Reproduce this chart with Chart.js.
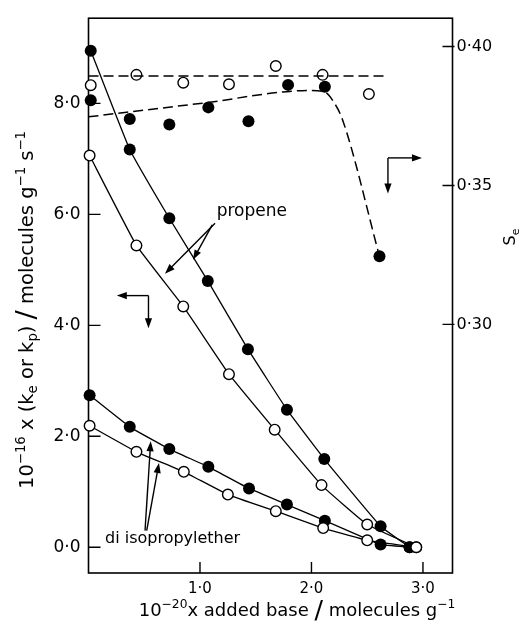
<!DOCTYPE html>
<html>
<head>
<meta charset="utf-8">
<script src="https://cdn.jsdelivr.net/npm/chart.js@4.4.0/dist/chart.umd.min.js"></script>
<style>
    html, body { margin: 0; padding: 0; background: #fff; }
    #wrap { width: 522px; height: 631px; position: relative; }
</style>
</head>
<body>
<div id="wrap"><canvas id="chartBase"></canvas></div>
<script>
// added base, 10^-20 molecules g^-1  /  rate constants, 10^16 molecules g^-1 s^-1
const propKeX = [0.02, 0.37, 0.725, 1.07, 1.43, 1.78, 2.115, 2.62, 2.88];
const propKeY = [8.95, 7.17, 5.93, 4.80, 3.57, 2.48, 1.59, 0.38, 0.0];
const propKpX = [0.01, 0.43, 0.85, 1.26, 1.67, 2.09, 2.50, 2.94];
const propKpY = [7.06, 5.44, 4.34, 3.12, 2.12, 1.12, 0.41, 0.0];

const etherKeX = [0.01, 0.37, 0.725, 1.075, 1.44, 1.78, 2.12, 2.62, 2.88];
const etherKeY = [2.74, 2.17, 1.77, 1.45, 1.06, 0.77, 0.48, 0.05, 0.0];
const etherKpX = [0.01, 0.43, 0.855, 1.25, 1.68, 2.105, 2.50, 2.94];
const etherKpY = [2.19, 1.72, 1.36, 0.95, 0.65, 0.345, 0.125, 0.0];

// selectivity S_e (right axis)
const seFilledX = [0.02, 0.37, 0.725, 1.075, 1.435, 1.79, 2.12, 2.61];
const seFilledY = [0.3807, 0.3739, 0.3719, 0.3781, 0.3731, 0.3862, 0.3855, 0.3245];
const seOpenX = [0.02, 0.43, 0.85, 1.26, 1.68, 2.10, 2.515];
const seOpenY = [0.3861, 0.3898, 0.3870, 0.3864, 0.3930, 0.3898, 0.3829];

// dashed curves drawn through the S_e points
const seFilledFitX = [0, 1.0, 2.0, 2.12, 2.2, 2.28, 2.61];
const seFilledFitY = [0.3747, 0.3795, 0.3842, 0.3836, 0.3800, 0.3735, 0.3245];
const seOpenFitX = [0, 2.69];
const seOpenFitY = [0.3894, 0.3894];

const xTicks = [1, 2, 3];
const kTicks = [0, 2, 4, 6, 8];
const seTicks = [0.30, 0.35, 0.40];

const pares = (xs, ys) => xs.map((x, i) => ({ x: x, y: ys[i] }));
const conPunto = (v, d) => v.toFixed(d).replace('.', '\u00b7');

const FUENTE = 'DejaVu Sans';

const serieLinea = (xs, ys, relleno) => ({
    data: pares(xs, ys),
    yAxisID: 'y',
    borderColor: '#000',
    borderWidth: 1.3,
    tension: 0.1,
    pointRadius: relleno ? 6 : 5.3,
    pointBorderWidth: relleno ? 0 : 1.4,
    pointBackgroundColor: relleno ? '#000' : '#fff',
    pointBorderColor: '#000',
    clip: false
});

const seriePuntos = (xs, ys, relleno) => ({
    data: pares(xs, ys),
    yAxisID: 'y1',
    showLine: false,
    pointRadius: relleno ? 6 : 5.3,
    pointBorderWidth: relleno ? 0 : 1.4,
    pointBackgroundColor: relleno ? '#000' : '#fff',
    pointBorderColor: '#000',
    clip: false
});

const serieAjuste = (xs, ys) => ({
    data: pares(xs, ys),
    yAxisID: 'y1',
    borderColor: '#000',
    borderWidth: 1.5,
    borderDash: [10, 5],
    pointRadius: 0,
    cubicInterpolationMode: 'monotone',
    clip: false
});

// texto con super/subindices
const textoRico = (ctx, partes, x, y, size) => {
    const medir = p => {
        const s = p[1] === 'sup' || p[1] === 'sub' ? size * 0.68 : (p[1] === 'big' ? size * 1.4 : size);
        ctx.font = `${s}px "${FUENTE}"`;
        return { s: s, w: ctx.measureText(p[0]).width };
    };
    const total = partes.reduce((a, p) => a + medir(p).w, 0);
    let cx = x - total / 2;
    ctx.textBaseline = 'alphabetic';
    ctx.textAlign = 'left';
    partes.forEach(p => {
        const m = medir(p);
        let dy = 0;
        if (p[1] === 'sup') dy = -size * 0.42;
        if (p[1] === 'sub') dy = size * 0.22;
        if (p[1] === 'big') dy = size * 0.12;
        ctx.fillText(p[0], cx, y + dy);
        cx += m.w;
    });
};

const flecha = (ctx, x1, y1, x2, y2) => {
    const ang = Math.atan2(y2 - y1, x2 - x1);
    const L = 10, W = 3.6;
    ctx.beginPath();
    ctx.moveTo(x1, y1);
    ctx.lineTo(x2 - Math.cos(ang) * L * 0.8, y2 - Math.sin(ang) * L * 0.8);
    ctx.stroke();
    ctx.beginPath();
    ctx.moveTo(x2, y2);
    ctx.lineTo(x2 - Math.cos(ang) * L - Math.sin(ang) * W, y2 - Math.sin(ang) * L + Math.cos(ang) * W);
    ctx.lineTo(x2 - Math.cos(ang) * L + Math.sin(ang) * W, y2 - Math.sin(ang) * L - Math.cos(ang) * W);
    ctx.closePath();
    ctx.fill();
};

const marco = {
    id: 'marco',
    beforeDatasetsDraw(chart) {
        const { ctx, chartArea: a, scales } = chart;
        ctx.save();
        ctx.strokeStyle = '#000';
        ctx.lineWidth = 1.6;
        ctx.strokeRect(a.left, a.top, a.right - a.left, a.bottom - a.top);
        ctx.lineWidth = 1.4;
        ctx.beginPath();
        kTicks.forEach(v => {
            const py = scales.y.getPixelForValue(v);
            ctx.moveTo(a.left, py); ctx.lineTo(a.left + 12, py);
        });
        seTicks.forEach(v => {
            const py = scales.y1.getPixelForValue(v);
            ctx.moveTo(a.right + 2, py); ctx.lineTo(a.right - 10, py);
        });
        xTicks.forEach(v => {
            const px = scales.x.getPixelForValue(v);
            ctx.moveTo(px, a.bottom); ctx.lineTo(px, a.bottom - 11);
        });
        ctx.stroke();
        ctx.restore();
    },
    afterDraw(chart) {
        const { ctx, scales } = chart;
        const X = v => scales.x.getPixelForValue(v);
        const Y = v => scales.y.getPixelForValue(v);
        ctx.save();
        ctx.fillStyle = '#000';
        ctx.strokeStyle = '#000';
        ctx.lineWidth = 1.4;

        // titulos de ejes
        ctx.save();
        ctx.translate(26, 310);
        ctx.rotate(-Math.PI / 2);
        textoRico(ctx, [['10'], ['\u221216', 'sup'], [' x (k'], ['e', 'sub'], [' or k'], ['p', 'sub'],
            [') '], ['/', 'big'], [' molecules g'], ['\u22121', 'sup'], [' s'], ['\u22121', 'sup']], 0, 7, 19.5);
        ctx.restore();

        textoRico(ctx, [['10'], ['\u221220', 'sup'], ['x added base '], ['/', 'big'], [' molecules g'], ['\u22121', 'sup']], 297, 616, 18);

        ctx.save();
        ctx.translate(509, 237);
        ctx.rotate(-Math.PI / 2);
        textoRico(ctx, [['S'], ['e', 'sub']], 0, 6, 16);
        ctx.restore();

        // etiquetas dentro del grafico
        ctx.font = `17px "${FUENTE}"`;
        ctx.textAlign = 'left';
        ctx.textBaseline = 'alphabetic';
        ctx.fillText('propene', X(1.15), Y(5.97));
        flecha(ctx, X(1.135), Y(5.84), X(0.686), Y(4.93));
        flecha(ctx, X(1.11), Y(5.81), X(0.937), Y(5.18));

        ctx.font = `16px "${FUENTE}"`;
        ctx.fillText('di isopropylether', X(0.148), Y(0.07));
        flecha(ctx, X(0.507), Y(0.30), X(0.558), Y(1.91));
        flecha(ctx, X(0.522), Y(0.30), X(0.632), Y(1.52));

        // indicadores de eje
        flecha(ctx, X(0.538), Y(4.536), X(0.254), Y(4.536));
        flecha(ctx, X(0.538), Y(4.536), X(0.538), Y(3.946));
        flecha(ctx, X(2.686), Y(7.018), X(2.991), Y(7.018));
        flecha(ctx, X(2.686), Y(7.018), X(2.686), Y(6.375));
        ctx.restore();
    }
};

const canvas = document.getElementById('chartBase');
const ctx = canvas.getContext('2d');

new Chart(ctx, {
    type: 'line',
    data: {
        datasets: [
            serieAjuste(seOpenFitX, seOpenFitY),
            serieAjuste(seFilledFitX, seFilledFitY),
            serieLinea(propKpX, propKpY, false),
            serieLinea(propKeX, propKeY, true),
            serieLinea(etherKpX, etherKpY, false),
            serieLinea(etherKeX, etherKeY, true),
            seriePuntos(seOpenX, seOpenY, false),
            seriePuntos(seFilledX, seFilledY, true)
        ]
    },
    options: {
        responsive: true,
        maintainAspectRatio: false,
        animation: false,
        layout: { padding: { top: 13, left: 0, right: 0, bottom: 0 } },
        plugins: { legend: { display: false }, tooltip: { enabled: false } },
        scales: {
            x: {
                type: 'linear',
                min: 0,
                max: 3.265,
                afterBuildTicks: s => { s.ticks = xTicks.map(v => ({ value: v })); },
                afterFit: s => { s.height = 58; },
                grid: { display: false, drawTicks: false },
                border: { display: false },
                ticks: { padding: 7, color: '#000', font: { family: FUENTE, size: 15 }, callback: v => conPunto(v, 1) }
            },
            y: {
                position: 'left',
                min: -0.464,
                max: 9.536,
                afterBuildTicks: s => { s.ticks = kTicks.map(v => ({ value: v })); },
                afterFit: s => { s.width = 88.5; },
                grid: { display: false, drawTicks: false },
                border: { display: false },
                ticks: { padding: 8, color: '#000', font: { family: FUENTE, size: 17 }, callback: v => conPunto(v, 1) }
            },
            y1: {
                position: 'right',
                min: 0.2105,
                max: 0.4102,
                afterBuildTicks: s => { s.ticks = seTicks.map(v => ({ value: v })); },
                afterFit: s => { s.width = 69.5; },
                grid: { display: false, drawTicks: false },
                border: { display: false },
                ticks: { padding: 4, color: '#000', font: { family: FUENTE, size: 16 }, callback: v => conPunto(v, 2) }
            }
        }
    },
    plugins: [marco]
});
</script>
</body>
</html>
